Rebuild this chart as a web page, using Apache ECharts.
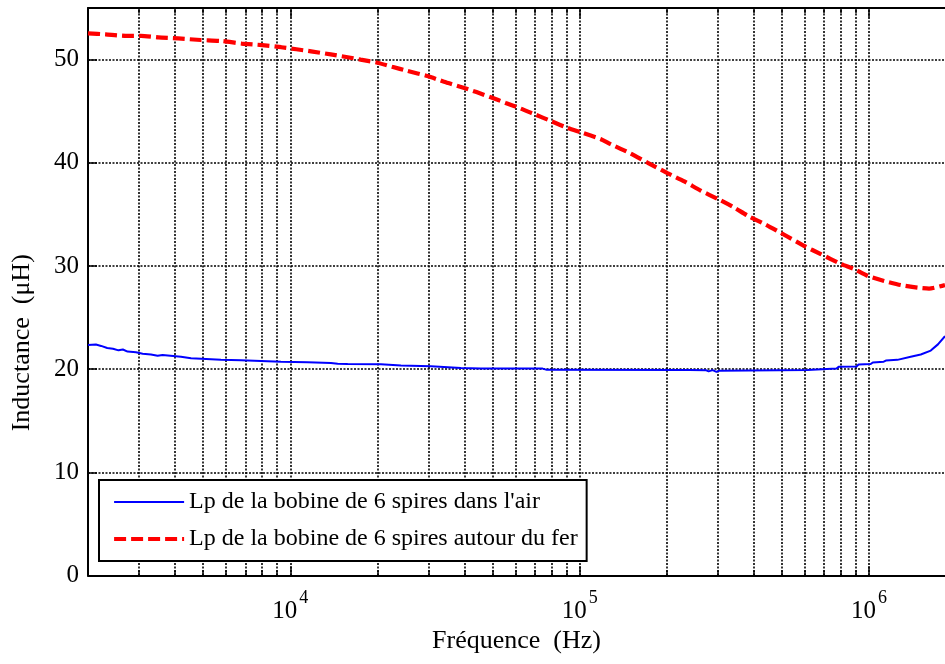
<!DOCTYPE html>
<html>
<head>
<meta charset="utf-8">
<script src="https://cdn.jsdelivr.net/npm/echarts@6/dist/echarts.min.js"></script>
<style>
  html, body { margin: 0; padding: 0; background: #fff; }
  #chart { width: 945px; height: 664px; }
</style>
</head>
<body>
<div id="chart"></div>
<script>
// Bobine de 6 spires dans l'air : fréquence (Hz) et inductance Lp (µH)
const freqAir = [2000, 2130, 2220, 2330, 2440, 2550, 2640, 2740, 2930, 3090, 3300, 3480, 3620, 4190, 4540, 4920, 5760, 6760, 7920, 9290, 11480, 13820, 14580, 15790, 20570, 24130, 30620, 38870, 45570, 74500, 77000, 232700, 236000, 240000, 274000, 279000, 288000, 297000, 304000, 612700, 619000, 772000, 785000, 905000, 920000, 1013700, 1030000, 1124000, 1143000, 1253000, 1266000, 1393000, 1509000, 1634000, 1730000, 1830000];
const lpAir = [22.34, 22.38, 22.25, 22.05, 21.98, 21.82, 21.9, 21.7, 21.63, 21.5, 21.42, 21.3, 21.38, 21.2, 21.05, 21.0, 20.9, 20.85, 20.8, 20.72, 20.66, 20.6, 20.52, 20.5, 20.47, 20.35, 20.27, 20.12, 20.06, 20.05, 19.93, 19.92, 19.8, 19.92, 19.88, 19.78, 19.9, 19.74, 19.85, 19.92, 20.03, 20.05, 20.22, 20.25, 20.45, 20.5, 20.65, 20.72, 20.83, 20.9, 21.05, 21.2, 21.42, 21.8, 22.4, 23.2];

// Bobine de 6 spires autour du fer
const freqFer = [2000, 2300, 2700, 3050, 3500, 4100, 4900, 5800, 6800, 8000, 9300, 10500, 11800, 13800, 15600, 17500, 20000, 22500, 25400, 29800, 34000, 38900, 44000, 49300, 55500, 62600, 70500, 79500, 89500, 101000, 118000, 128000, 150000, 172000, 201000, 230000, 262000, 300000, 340000, 382000, 440000, 496000, 596000, 681000, 799000, 888000, 987000, 1127000, 1287000, 1469000, 1612000, 1830000];
const lpFer = [52.55, 52.45, 52.3, 52.3, 52.15, 52.05, 51.9, 51.8, 51.55, 51.4, 51.2, 51.0, 50.8, 50.5, 50.25, 50.0, 49.7, 49.3, 48.9, 48.4, 47.85, 47.35, 46.85, 46.35, 45.8, 45.25, 44.65, 44.05, 43.45, 42.95, 42.3, 41.8, 40.9, 40.0, 39.0, 38.2, 37.3, 36.5, 35.7, 34.85, 34.0, 33.2, 31.95, 31.15, 30.2, 29.7, 29.05, 28.55, 28.15, 27.9, 27.8, 28.15];

const seriesNames = ["Lp de la bobine de 6 spires dans l'air", "Lp de la bobine de 6 spires autour du fer"];

// Graduations de l'axe des fréquences
const decadeTicks = [10000, 100000, 1000000];
const minorTicks = [3000, 4000, 5000, 6000, 7000, 8000, 9000,
                    20000, 30000, 40000, 50000, 60000, 70000, 80000, 90000,
                    200000, 300000, 400000, 500000, 600000, 700000, 800000, 900000];
const yTicks = [0, 10, 20, 30, 40, 50];

const FONT = "'Liberation Serif', 'Times New Roman', serif";
const X_MIN = 2000, X_MAX = 1830000, Y_MIN = 0, Y_MAX = 55;

const BLUE = '#0000ff', RED = '#ff0000';
const blueLine = { color: BLUE, width: 2, type: 'solid' };
const redLine = { color: RED, width: 4.2, type: [12, 5] };

const zip = (xs, ys) => xs.map((x, i) => [x, ys[i]]);

const gridStyle = { color: '#000', width: 1.6, type: [2, 1.5] };
const tickStyle = { color: '#000', width: 1.5, type: 'solid' };

// Quadrillage vertical et petites graduations (bas et haut)
const markData = [];
decadeTicks.concat(minorTicks).forEach(v => {
  markData.push({ xAxis: v, lineStyle: gridStyle });
});
decadeTicks.forEach(v => {
  markData.push([{ coord: [v, Y_MIN], lineStyle: tickStyle }, { coord: [v, 0.9], lineStyle: tickStyle }]);
  markData.push([{ coord: [v, Y_MAX], lineStyle: tickStyle }, { coord: [v, Y_MAX - 0.9], lineStyle: tickStyle }]);
});
minorTicks.forEach(v => {
  markData.push([{ coord: [v, Y_MIN], lineStyle: tickStyle }, { coord: [v, 0.5], lineStyle: tickStyle }]);
  markData.push([{ coord: [v, Y_MAX], lineStyle: tickStyle }, { coord: [v, Y_MAX - 0.5], lineStyle: tickStyle }]);
});

const isDecade = v => decadeTicks.some(d => Math.abs(d - v) < 1e-6 * d);

const chart = echarts.init(document.getElementById('chart'), null, { renderer: 'canvas' });
chart.setOption({
  animation: false,
  backgroundColor: '#fff',
  textStyle: { fontFamily: FONT },
  grid: { left: 88, right: 0, top: 8, bottom: 88.5, containLabel: false },
  legend: {
    z: 10,
    data: [
      { name: seriesNames[0], lineStyle: blueLine, itemStyle: { opacity: 0 } },
      { name: seriesNames[1], lineStyle: redLine, itemStyle: { opacity: 0 } }
    ],
    orient: 'vertical',
    left: 99, top: 480,
    itemWidth: 70, itemHeight: 14, itemGap: 13,
    padding: [10, 9, 10, 13],
    backgroundColor: '#fff',
    borderColor: '#000', borderWidth: 2,
    selectedMode: false,
    textStyle: { fontFamily: FONT, fontSize: 24, color: '#000' }
  },
  xAxis: [{
    type: 'log', logBase: 10, min: X_MIN, max: X_MAX,
    position: 'bottom',
    name: 'Fréquence  (Hz)', nameLocation: 'middle', nameGap: 51,
    nameTextStyle: { fontFamily: FONT, fontSize: 26, color: '#000' },
    axisLine: { show: true, onZero: false, lineStyle: { color: '#000', width: 2 } },
    axisTick: { show: false },
    splitLine: { show: false },
    axisLabel: {
      margin: 14, showMinLabel: false, showMaxLabel: false,
      formatter: v => isDecade(v) ? '{b|10}{s|' + Math.round(Math.log10(v)) + '}' : '',
      rich: {
        b: { fontFamily: FONT, fontSize: 25, color: '#000' },
        s: { fontFamily: FONT, fontSize: 18, color: '#000', padding: [0, 0, 25, 2] }
      }
    }
  }, {
    type: 'log', logBase: 10, min: X_MIN, max: X_MAX,
    position: 'top',
    axisLine: { show: true, onZero: false, lineStyle: { color: '#000', width: 2 } },
    axisTick: { show: false },
    axisLabel: { show: false },
    splitLine: { show: false }
  }],
  yAxis: {
    type: 'value', min: Y_MIN, max: Y_MAX, interval: 10,
    name: 'Inductance  (μH)', nameLocation: 'middle', nameGap: 53,
    nameTextStyle: { fontFamily: FONT, fontSize: 26, color: '#000', padding: [0, 102, 0, 0] },
    axisLine: { show: true, lineStyle: { color: '#000', width: 2 } },
    axisTick: { show: true, inside: true, length: 9, lineStyle: { color: '#000', width: 1.5 } },
    axisLabel: {
      margin: 9, fontFamily: FONT, fontSize: 25, color: '#000',
      formatter: v => yTicks.indexOf(v) >= 0 ? String(v) : ''
    },
    splitLine: { show: true, lineStyle: gridStyle }
  },
  series: [{
    name: 'quadrillage', type: 'line', data: [], z: 1, silent: true,
    markLine: {
      z: 1,
      silent: true, symbol: ['none', 'none'], animation: false,
      label: { show: false }, emphasis: { disabled: true },
      lineStyle: gridStyle,
      data: markData
    }
  }, {
    name: seriesNames[0], type: 'line', z: 3,
    data: zip(freqAir, lpAir),
    symbol: 'none', showSymbol: false,
    lineStyle: blueLine,
    itemStyle: { color: BLUE }
  }, {
    name: seriesNames[1], type: 'line', z: 4,
    data: zip(freqFer, lpFer),
    symbol: 'none', showSymbol: false, smooth: 0.2,
    lineStyle: redLine,
    itemStyle: { color: RED }
  }]
});
</script>
</body>
</html>
